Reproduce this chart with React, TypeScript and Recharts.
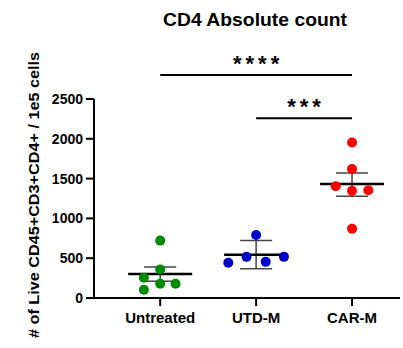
import {
  Customized,
  ErrorBar,
  ReferenceLine,
  Scatter,
  ScatterChart,
  XAxis,
  YAxis,
} from "recharts";

const FONT = "'Liberation Sans', Arial, sans-serif";

const categories = ["Untreated", "UTD-M", "CAR-M"];
const colors = ["#008a00", "#0000c8", "#ff0000"];

// individual animals per group, with the small horizontal spread seen in the plot
const untreated = [721, 358, 254, 179, 179, 104];
const untreatedSpread = [0, 0, -0.17, 0, 0.16, -0.17];
const utdM = [442, 517, 792, 454, 517];
const utdMSpread = [-0.29, -0.1, 0, 0.1, 0.29];
const carM = [1954, 1621, 1404, 1346, 1354, 871];
const carMSpread = [0, 0, -0.17, 0, 0.17, 0];

const means = [300, 542, 1433];
const errLow = [91, 176, 154];
const errHigh = [91, 179, 138];

const yTicks = [0, 500, 1000, 1500, 2000, 2500];

// significance brackets
const sigFrom = [1, 2];
const sigTo = [3, 3];
const sigY = [2800, 2257];
const sigText = ["****", "***"];

const groups = [
  { values: untreated, spread: untreatedSpread },
  { values: utdM, spread: utdMSpread },
  { values: carM, spread: carMSpread },
];

const meanData = categories.map((c, i) => ({
  x: i + 1,
  y: means[i],
  err: [errLow[i], errHigh[i]],
  name: c,
}));

function MeanLine(p: any) {
  return (
    <line
      x1={p.cx - 32}
      x2={p.cx + 32}
      y1={p.cy}
      y2={p.cy}
      stroke="#000"
      strokeWidth={2.5}
    />
  );
}

function Title() {
  return (
    <text
      x={255}
      y={26}
      textAnchor="middle"
      fontFamily={FONT}
      fontWeight="bold"
      fontSize={18}
      fill="#000"
      textLength={184}
      lengthAdjust="spacingAndGlyphs"
    >
      CD4 Absolute count
    </text>
  );
}

function YLabel() {
  return (
    <text
      x={39}
      y={195}
      transform="rotate(-90, 39, 195)"
      textAnchor="middle"
      fontFamily={FONT}
      fontWeight="bold"
      fontSize={14.5}
      fill="#000"
      textLength={286}
      lengthAdjust="spacingAndGlyphs"
    >
      # of Live CD45+CD3+CD4+ / 1e5 cells
    </text>
  );
}

export default function App() {
  const yTickStyle = { fill: "#000", fontSize: 14, fontWeight: "bold", fontFamily: FONT };
  const xTickStyle = { fill: "#000", fontSize: 15, fontWeight: "bold", fontFamily: FONT };
  return (
    <div style={{ position: "absolute", left: 0, top: 0, background: "#fff" }}>
      <ScatterChart
        width={403}
        height={348}
        margin={{ top: 99, right: 3, bottom: 0, left: 0 }}
      >
        <XAxis
          type="number"
          dataKey="x"
          domain={[0.31, 3.5]}
          ticks={[1, 2, 3]}
          tickFormatter={(v) => categories[v - 1]}
          allowDataOverflow
          height={50}
          tickSize={8}
          tickMargin={6}
          axisLine={{ stroke: "#000", strokeWidth: 2 }}
          tickLine={{ stroke: "#000", strokeWidth: 2 }}
          tick={xTickStyle}
        />
        <YAxis
          type="number"
          dataKey="y"
          domain={[0, 2500]}
          ticks={yTicks}
          allowDataOverflow
          width={94}
          tickSize={8}
          tickMargin={3}
          axisLine={{ stroke: "#000", strokeWidth: 2 }}
          tickLine={{ stroke: "#000", strokeWidth: 2 }}
          tick={yTickStyle}
        />
        <Scatter data={meanData} shape={MeanLine} isAnimationActive={false}>
          <ErrorBar
            dataKey="err"
            direction="y"
            width={16}
            stroke="#444"
            strokeWidth={1.5}
            isAnimationActive={false}
          />
        </Scatter>
        {groups.map((g, gi) => (
          <Scatter
            key={categories[gi]}
            data={g.values.map((v, i) => ({ x: gi + 1 + g.spread[i], y: v }))}
            isAnimationActive={false}
            shape={(p: any) => <circle cx={p.cx} cy={p.cy} r={5} fill={colors[gi]} />}
          />
        ))}
        {sigY.map((y, i) => (
          <ReferenceLine
            key={sigText[i]}
            segment={[
              { x: sigFrom[i], y },
              { x: sigTo[i], y },
            ]}
            ifOverflow="visible"
            stroke="#000"
            strokeWidth={2}
            label={(props: any) => {
              const vb = props.viewBox;
              return (
                <text
                  x={vb.x + vb.width / 2 + 2}
                  y={vb.y - 4}
                  textAnchor="middle"
                  fontFamily={FONT}
                  fontWeight="bold"
                  fontSize={22}
                  letterSpacing={4}
                  fill="#000"
                >
                  {sigText[i]}
                </text>
              );
            }}
          />
        ))}
        <Customized component={<Title />} />
        <Customized component={<YLabel />} />
      </ScatterChart>
    </div>
  );
}
